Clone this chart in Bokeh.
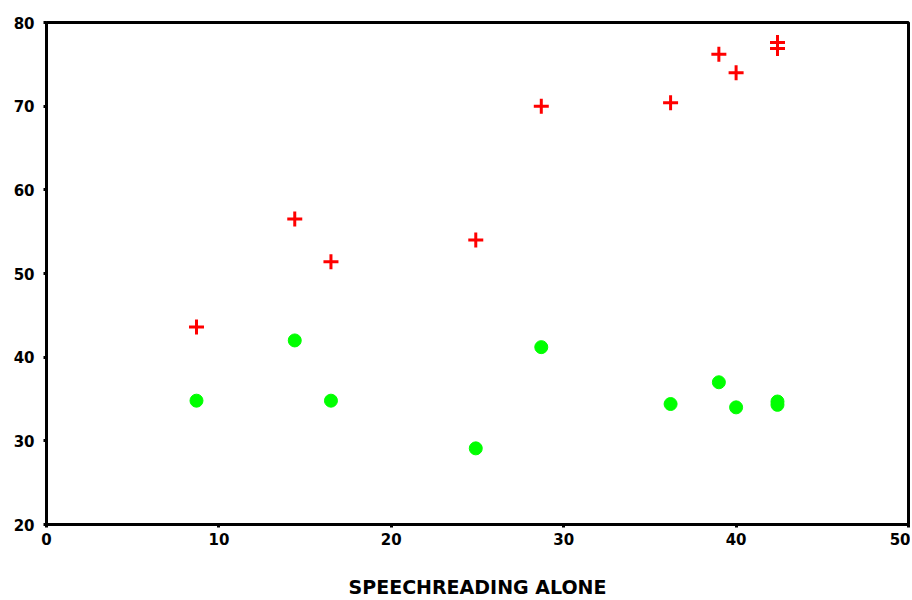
from bokeh.plotting import figure
from bokeh.models import Range1d, FixedTicker
from bokeh.embed import file_html
from bokeh.resources import INLINE

# Data
plus_x = [8.7, 14.4, 16.5, 24.9, 28.7, 36.2, 39.0, 40.0, 42.4, 42.4]
plus_y = [43.6, 56.5, 51.4, 54.0, 70.0, 70.4, 76.2, 74.0, 77.6, 76.9]
dot_x = [8.7, 14.4, 16.5, 24.9, 28.7, 36.2, 39.0, 40.0, 42.4, 42.4]
dot_y = [34.8, 42.0, 34.8, 29.1, 41.2, 34.4, 37.0, 34.0, 34.7, 34.3]
x_ticks = [0, 10, 20, 30, 40, 50]
y_ticks = [20, 30, 40, 50, 60, 70, 80]
x_label = "SPEECHREADING ALONE"

p = figure(width=910, height=600, output_backend="svg", toolbar_location=None,
           x_range=Range1d(0, 50), y_range=Range1d(20, 80),
           min_border_left=46, min_border_top=22, min_border_right=2, min_border_bottom=76)
p.grid.visible = False
p.outline_line_color = "black"
p.outline_line_width = 3
p.background_fill_color = "white"
p.border_fill_color = "white"

for ax in (p.xaxis[0], p.yaxis[0]):
    ax.axis_line_width = 3
    ax.axis_line_color = "black"
    ax.major_tick_in = 0
    ax.major_tick_out = 3
    ax.major_tick_line_width = 3
    ax.minor_tick_line_color = None
    ax.major_label_text_font = "DejaVu Sans"
    ax.major_label_text_font_style = "bold"
    ax.major_label_text_font_size = "15px"
    ax.major_label_text_color = "black"

p.xaxis[0].ticker = FixedTicker(ticks=x_ticks)
p.yaxis[0].ticker = FixedTicker(ticks=y_ticks)
p.xaxis[0].major_label_standoff = 5
p.yaxis[0].major_label_standoff = 9
p.xaxis[0].axis_label = x_label
p.xaxis[0].axis_label_text_font = "DejaVu Sans"
p.xaxis[0].axis_label_text_font_style = "bold"
p.xaxis[0].axis_label_text_font_size = "19px"
p.xaxis[0].axis_label_text_color = "black"
p.xaxis[0].axis_label_standoff = 28

p.scatter(dot_x, dot_y, marker="circle", size=13, fill_color="#00ff00",
          line_color="#00ff00", line_width=1)
p.scatter(plus_x, plus_y, marker="cross", size=15, line_color="#ff0000",
          line_width=3)

open("out.html", "w").write(file_html(p, INLINE))
